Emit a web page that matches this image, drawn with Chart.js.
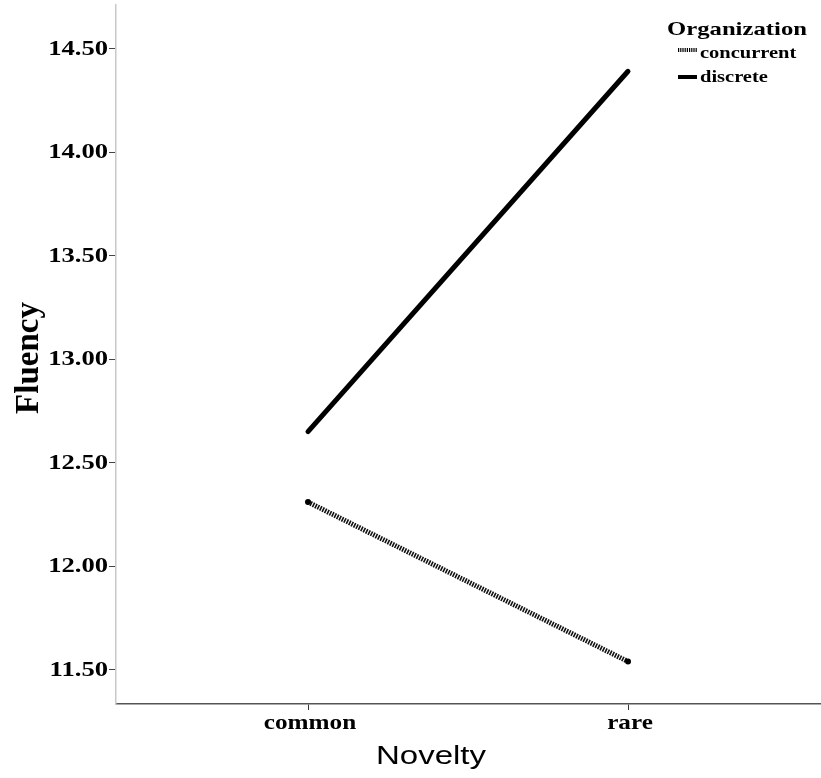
<!DOCTYPE html>
<html>
<head>
<meta charset="utf-8">
<script src="https://cdn.jsdelivr.net/npm/chart.js@4.4.1/dist/chart.umd.min.js"></script>
<style>
  html, body { margin: 0; padding: 0; background: #fff; }
  #wrap { width: 821px; height: 778px; }
</style>
</head>
<body>
<div id="wrap"><canvas id="fluencyChart" width="821" height="778"></canvas></div>
<script>
// categories on the x axis (Novelty)
const categories = ['common', 'rare'];
// mean fluency per organization
const concurrentValues = [12.31, 11.54];
const discreteValues = [12.65, 14.39];
const seriesNames = ['concurrent', 'discrete'];
const yTickValues = [11.5, 12.0, 12.5, 13.0, 13.5, 14.0, 14.5];

const serif = '"Liberation Serif", "Times New Roman", serif';
const sans = '"Liberation Sans", Arial, sans-serif';

const toPoints = (vals) => vals.map((v, i) => ({ x: i, y: v }));

// the original export has its text stretched sideways, so text is drawn by hand
function wideText(ctx, text, x, y, font, stretch, align) {
  ctx.save();
  ctx.translate(x, y);
  ctx.scale(stretch, 1);
  ctx.font = font;
  ctx.textAlign = align;
  ctx.textBaseline = 'middle';
  ctx.fillStyle = '#000';
  ctx.fillText(text, 0, 0);
  ctx.restore();
}

const labelPlugin = {
  id: 'wideLabels',
  afterDraw(chart) {
    const ctx = chart.ctx;
    const xs = chart.scales.x;
    const ys = chart.scales.y;

    // y tick labels
    yTickValues.forEach((v) => {
      wideText(ctx, v.toFixed(2), 108, ys.getPixelForValue(v) + 1, 'bold 20px ' + serif, 1.33, 'right');
    });
    // x tick labels
    categories.forEach((c, i) => {
      wideText(ctx, c, xs.getPixelForValue(i) + 2, 724, 'bold 21px ' + serif, 1.2, 'center');
    });
    // axis titles
    wideText(ctx, 'Novelty', 431, 757, '25px ' + sans, 1.32, 'center');
    ctx.save();
    ctx.translate(29, 358);
    ctx.rotate(-Math.PI / 2);
    wideText(ctx, 'Fluency', 0, 0, 'bold 33px ' + serif, 1, 'center');
    ctx.restore();

    // legend, top right
    wideText(ctx, 'Organization', 667, 30, 'bold 19px ' + serif, 1.3, 'left');
    const rows = [53, 77];
    chart.data.datasets.forEach((ds, i) => {
      const y = rows[i];
      ctx.save();
      ctx.strokeStyle = '#000';
      ctx.lineWidth = 4;
      if (i === 0) {
        ctx.setLineDash([1.2, 1]);
        ctx.beginPath();
        ctx.moveTo(678, y - 3);
        ctx.lineTo(697, y - 3);
      } else {
        ctx.beginPath();
        ctx.moveTo(678, y);
        ctx.lineTo(697, y);
      }
      ctx.stroke();
      ctx.restore();
      wideText(ctx, ds.label, 700, y + 1, 'bold 16px ' + serif, 1.28, 'left');
    });
  }
};

const ctx = document.getElementById('fluencyChart').getContext('2d');
new Chart(ctx, {
  type: 'line',
  data: {
    datasets: [
      {
        label: seriesNames[0],
        data: toPoints(concurrentValues),
        borderColor: '#111',
        borderWidth: 5,
        borderDash: [1.6, 1.1],
        borderCapStyle: 'butt',
        pointRadius: 3,
        pointBackgroundColor: '#000',
        pointBorderWidth: 0,
      },
      {
        label: seriesNames[1],
        data: toPoints(discreteValues),
        borderColor: '#000',
        borderWidth: 5,
        borderCapStyle: 'round',
        pointRadius: 0,
      },
    ],
  },
  options: {
    responsive: false,
    animation: false,
    layout: { autoPadding: false, padding: { top: 5, right: 1 } },
    plugins: {
      legend: { display: false },
      tooltip: { enabled: false },
    },
    scales: {
      x: {
        type: 'linear',
        min: -0.6,
        max: 1.6,
        afterBuildTicks: (axis) => { axis.ticks = categories.map((c, i) => ({ value: i })); },
        afterFit: (axis) => { axis.height = 74; },
        ticks: { display: false },
        grid: { drawOnChartArea: false, drawTicks: true, tickLength: 6, color: '#333', tickWidth: 1 },
        border: { color: '#555', width: 1.5 },
      },
      y: {
        min: 11.335,
        max: 14.71,
        afterBuildTicks: (axis) => { axis.ticks = yTickValues.map((v) => ({ value: v })); },
        afterFit: (axis) => { axis.width = 116; },
        ticks: { display: false },
        grid: { drawOnChartArea: false, drawTicks: true, tickLength: 7, color: '#444', tickWidth: 1 },
        border: { color: '#c8c8c8', width: 1.5 },
      },
    },
  },
  plugins: [labelPlugin],
});
</script>
</body>
</html>
